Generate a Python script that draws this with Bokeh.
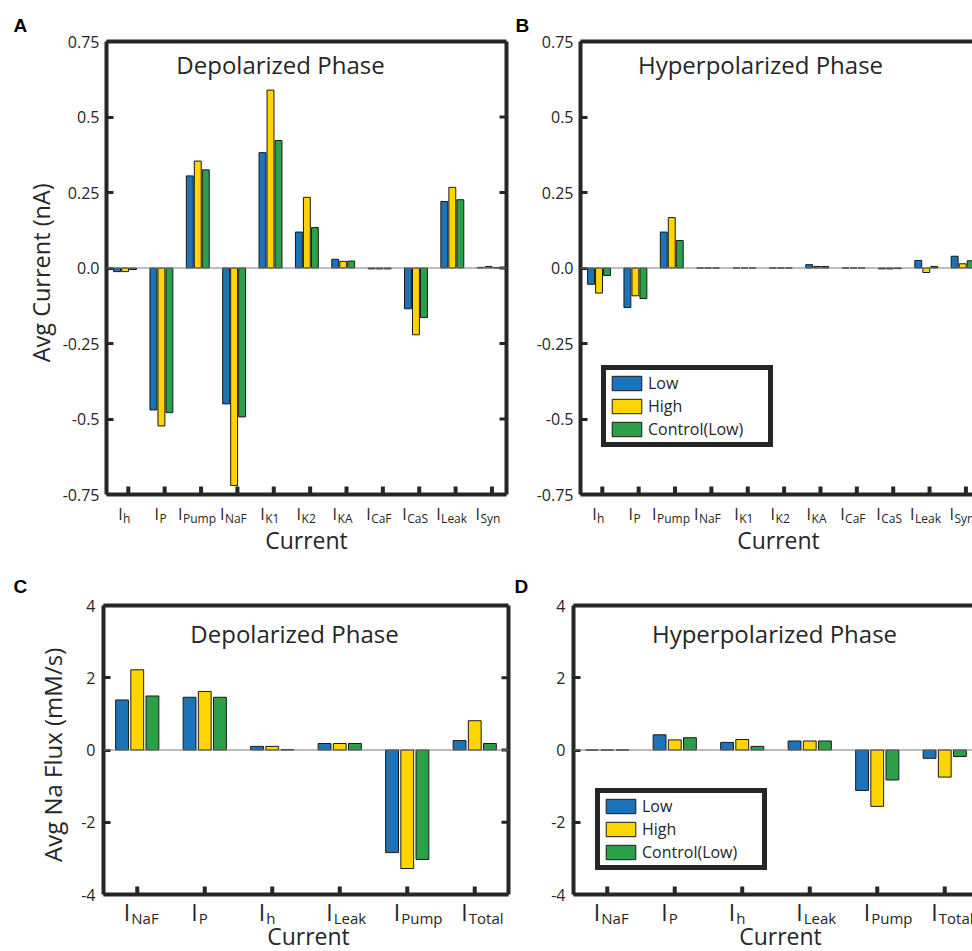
from bokeh.plotting import figure
from bokeh.models import Range1d, FixedTicker, LinearAxis, Label, Legend, LegendItem, Span, Title
from bokeh.layouts import column, row
from bokeh.embed import file_html
from bokeh.resources import INLINE

FONT = "Open Sans"
TXT = "#262626"

# ---------------- data ----------------
curr_labels = ["h", "P", "Pump", "NaF", "K1", "K2", "KA", "CaF", "CaS", "Leak", "Syn"]
flux_labels = ["NaF", "P", "h", "Leak", "Pump", "Total"]
series_names = ["Low", "High", "Control(Low)"]
series_colors = ["#1c73b7", "#fed500", "#2c9f49"]

# Panel A: depolarized phase, average current (nA)
dep_low = [-0.012, -0.470, 0.305, -0.450, 0.382, 0.119, 0.029, -0.003, -0.135, 0.220, 0.002]
dep_high = [-0.012, -0.523, 0.354, -0.720, 0.589, 0.234, 0.022, -0.003, -0.221, 0.267, 0.005]
dep_ctrl = [-0.005, -0.479, 0.325, -0.493, 0.422, 0.134, 0.023, -0.003, -0.164, 0.226, 0.001]

# Panel B: hyperpolarized phase, average current (nA)
hyp_low = [-0.054, -0.131, 0.119, 0.0, 0.0, 0.0, 0.011, 0.0, -0.003, 0.025, 0.039]
hyp_high = [-0.083, -0.092, 0.167, 0.0, 0.0, 0.0, 0.005, 0.0, -0.003, -0.015, 0.014]
hyp_ctrl = [-0.025, -0.101, 0.091, 0.0, 0.0, 0.0, 0.005, 0.0, -0.002, 0.005, 0.024]

# Panel C: depolarized phase, average Na flux (mM/s)
fdep_low = [1.385, 1.46, 0.10, 0.18, -2.84, 0.26]
fdep_high = [2.22, 1.62, 0.10, 0.18, -3.28, 0.81]
fdep_ctrl = [1.495, 1.46, 0.01, 0.18, -3.03, 0.18]

# Panel D: hyperpolarized phase, average Na flux (mM/s)
fhyp_low = [0.0, 0.42, 0.21, 0.25, -1.12, -0.23]
fhyp_high = [0.0, 0.28, 0.29, 0.25, -1.56, -0.75]
fhyp_ctrl = [0.0, 0.34, 0.10, 0.25, -0.83, -0.18]

cur_ticks = [-0.75, -0.5, -0.25, 0.0, 0.25, 0.5, 0.75]
cur_tick_text = ["-0.75", "-0.5", "-0.25", "0.0", "0.25", "0.5", "0.75"]
flux_ticks = [-4, -2, 0, 2, 4]
flux_tick_text = ["-4", "-2", "0", "2", "4"]

# ---------------- layout geometry ----------------
W_L, W_R = 512, 460
H_T, H_B = 560, 391

# Open Sans advance widths (em)
CW = {'h': .614, 'P': .604, 'u': .614, 'm': .93, 'p': .613, 'N': .76, 'a': .556, 'F': .515,
      'K': .60, '1': .572, '2': .572, 'A': .633, 'C': .631, 'S': .55, 'L': .52, 'e': .561,
      'k': .52, 'y': .504, 'n': .614, 'T': .55, 'o': .604, 't': .353, 'l': .253, 'v': .489,
      'g': .537, ' ': .26, 'r': .408, '(': .293, ')': .293, 'x': .514, 'M': .903, '/': .37,
      's': .477, 'I': .278}


def text_w(s, size):
    return size * sum(CW.get(c, .58) for c in s)


class Pan:
    """Pixel geometry of one panel: data box (fl..fr, ft..fb) inside a w x h canvas."""

    def __init__(self, w, h, fl, fr, ft, fb, xr, yr):
        self.w, self.h, self.fl, self.fr, self.ft, self.fb = w, h, fl, fr, ft, fb
        self.xr, self.yr = xr, yr
        self.kx = (fr - fl) / (xr[1] - xr[0])
        self.ky = (fb - ft) / (yr[1] - yr[0])

    def px2x(self, px):
        return self.xr[0] + (px - self.fl) / self.kx

    def py2y(self, py):
        return self.yr[1] - (py - self.ft) / self.ky

    def x2px(self, x):
        return self.fl + (x - self.xr[0]) * self.kx


def make_panel(pan, n_cat, yticks, ytext, boxed, standoff):
    # the plotting frame runs down to the bottom of the canvas so that the
    # category labels below the data box can be drawn inside it
    p = figure(width=pan.w, height=pan.h,
               x_range=Range1d(*pan.xr),
               y_range=Range1d(pan.py2y(pan.h), pan.yr[1]),
               output_backend="svg", toolbar_location=None, title=None,
               x_axis_location=None,
               min_border_left=pan.fl, min_border_right=pan.w - pan.fr,
               min_border_top=pan.ft, min_border_bottom=0,
               background_fill_color="white", border_fill_color="white")
    p.grid.visible = False
    p.outline_line_color = None

    ya = p.yaxis[0]
    ya.bounds = pan.yr
    ya.ticker = FixedTicker(ticks=yticks)
    ya.major_label_overrides = {t: s for t, s in zip(yticks, ytext)}
    ya.major_label_text_font = FONT
    ya.major_label_text_font_size = "16px"
    ya.major_label_text_color = TXT
    ya.major_label_standoff = standoff
    ya.major_tick_in = 7
    ya.major_tick_out = 0
    ya.major_tick_line_width = 3
    ya.major_tick_line_color = TXT
    ya.minor_tick_line_color = None
    ya.axis_line_width = 4
    ya.axis_line_color = TXT

    # top border of the box
    ta = LinearAxis(ticker=FixedTicker(ticks=[]), major_label_standoff=0,
                    major_tick_in=0, major_tick_out=0, major_tick_line_color=None,
                    minor_tick_line_color=None, axis_line_width=4, axis_line_color=TXT)
    p.add_layout(ta, "above")

    y_lo, y_hi = pan.yr
    x_lo, x_hi = pan.xr
    # bottom border of the box
    p.segment(x0=[x_lo], y0=[y_lo], x1=[x_hi], y1=[y_lo], line_color=TXT,
              line_width=4, line_cap="square")
    # inward category ticks
    cats = list(range(1, n_cat + 1))
    p.segment(x0=cats, y0=[y_lo] * n_cat, x1=cats, y1=[y_lo + 8 / pan.ky] * n_cat,
              line_color=TXT, line_width=4)

    if boxed:
        ra = LinearAxis(ticker=FixedTicker(ticks=[]), bounds=pan.yr, major_label_standoff=0,
                        major_tick_in=0, major_tick_out=0, major_tick_line_color=None,
                        minor_tick_line_color=None, axis_line_width=4, axis_line_color=TXT)
        p.add_layout(ra, "right")
        # mirrored value ticks on the right side
        p.segment(x0=[x_hi - 7 / pan.kx] * len(yticks), y0=yticks,
                  x1=[x_hi] * len(yticks), y1=yticks, line_color=TXT, line_width=3)
    return p


def add_bars(p, vals_list, offsets, width):
    rends = []
    n = len(vals_list[0])
    for vals, off, col in zip(vals_list, offsets, series_colors):
        xs = [i + 1 + off for i in range(n)]
        r = p.vbar(x=xs, top=vals, bottom=0, width=width, fill_color=col,
                   line_color="#1a1a1a", line_width=1)
        rends.append(r)
    p.add_layout(Span(location=0, dimension="width", line_color="#7a7a7a", line_width=1.2))
    return rends


def lab(p, pan, px, base, text, size, align="left", font=FONT, style="normal", color=TXT):
    """Text whose alphabetic baseline sits at pixel row `base`."""
    p.add_layout(Label(x=pan.px2x(px), y=pan.py2y(base - 0.38 * size), text=text,
                       text_align=align, text_baseline="middle", text_font=font,
                       text_font_size=f"{size}px", text_font_style=style, text_color=color))


def small_xlabels(p, pan, subs, base, s_main, s_sub, drop, shift):
    """'I' with a subscript, the pair centred a little left of each category tick."""
    wi = text_w("I", s_main)
    for i, sub in enumerate(subs):
        c = pan.x2px(i + 1) + shift
        total = wi + 0.5 + text_w(sub, s_sub)
        x0 = c - total / 2
        lab(p, pan, x0 + wi, base, "I", s_main, align="right")
        lab(p, pan, x0 + wi + 0.5, base + drop, sub, s_sub, align="left")


def flat_xlabels(p, pan, subs, base):
    for i, sub in enumerate(subs):
        T = pan.x2px(i + 1)
        lab(p, pan, T - 7, base, "I", 23, align="right")
        lab(p, pan, T - 6, base + 3, sub, 15, align="left")


def add_letter(p, pan, text, px, standoff, size=19):
    p.add_layout(Title(text=text, align="left", offset=px - pan.fl, standoff=standoff,
                       text_font="Liberation Sans", text_font_size=f"{size}px",
                       text_font_style="bold", text_color="black"), "above")


def add_ylabel(p, pan, text, size, standoff):
    # vertical title that starts so as to be centred on the value axis
    box_mid = (pan.ft + pan.fb) / 2
    start = box_mid + text_w(text, size) / 2
    p.add_layout(Title(text=text, align="left", offset=pan.h - 5 - start,
                       standoff=standoff, text_font=FONT, text_font_size=f"{size}px",
                       text_font_style="normal", text_color=TXT), "left")


def add_legend(p, rends, lx, ly):
    leg = Legend(items=[LegendItem(label=n, renderers=[r]) for n, r in zip(series_names, rends)],
                 location=(lx, ly), border_line_color=TXT, border_line_width=5,
                 border_line_alpha=1.0,
                 padding=2, spacing=1, margin=0, glyph_width=37, glyph_height=18,
                 label_standoff=3, label_width=118, label_height=18,
                 label_text_font=FONT, label_text_font_size="16px", label_text_color=TXT,
                 background_fill_color="white", background_fill_alpha=1.0)
    p.add_layout(leg)


# ---------------- Panel A ----------------
pa = Pan(W_L, H_T, 106, 506, 41, 494, (0.4, 11.4), (-0.75, 0.75))
pA = make_panel(pa, 11, cur_ticks, cur_tick_text, True, 7)
add_bars(pA, [dep_low, dep_high, dep_ctrl], [-0.31, -0.09, 0.13], 0.19)
add_ylabel(pA, pa, "Avg Current (nA)", 23.5, 6)
small_xlabels(pA, pa, curr_labels, 520, 16, 12, 3, -4)
lab(pA, pa, 306, 548, "Current", 23, align="center")
lab(pA, pa, 280, 73, "Depolarized Phase", 24, align="center")
add_letter(pA, pa, "A", 13, 11)

# ---------------- Panel B ----------------
pb_fl = 580 - W_L
pb = Pan(W_R, H_T, pb_fl, W_R, 41, 494, (0.4, 0.4 + (W_R - pb_fl) / 36.36), (-0.75, 0.75))
pB = make_panel(pb, 11, cur_ticks, cur_tick_text, False, 7)
rB = add_bars(pB, [hyp_low, hyp_high, hyp_ctrl], [-0.31, -0.09, 0.13], 0.19)
small_xlabels(pB, pb, curr_labels, 520, 16, 12, 3, -4)
lab(pB, pb, 778 - W_L, 548, "Current", 23, align="center")
lab(pB, pb, 760 - W_L, 73, "Hyperpolarized Phase", 24, align="center")
add_letter(pB, pb, "B", 515 - W_L, 11)
add_legend(pB, rB, 21, 113)

# ---------------- Panel C ----------------
Y0 = H_T
pc = Pan(W_L, H_B, 103, 508, 605 - Y0, 894 - Y0, (0.5, 6.5), (-4, 4))
pC = make_panel(pc, 6, flux_ticks, flux_tick_text, True, 8)
add_bars(pC, [fdep_low, fdep_high, fdep_ctrl], [-0.225, 0.0, 0.225], 0.19)
add_ylabel(pC, pc, "Avg Na Flux (mM/s)", 24, 19)
flat_xlabels(pC, pc, flux_labels, 920 - Y0)
lab(pC, pc, 308, 944 - Y0, "Current", 23, align="center")
lab(pC, pc, 294, 642 - Y0, "Depolarized Phase", 24, align="center")
add_letter(pC, pc, "C", 13, 18)

# ---------------- Panel D ----------------
pd_fl = 573 - W_L
pd = Pan(W_R, H_B, pd_fl, W_R, 605 - Y0, 894 - Y0, (0.5, 0.5 + (W_R - pd_fl) / 67.5), (-4, 4))
pD = make_panel(pd, 6, flux_ticks, flux_tick_text, False, 8)
rD = add_bars(pD, [fhyp_low, fhyp_high, fhyp_ctrl], [-0.225, 0.0, 0.225], 0.19)
flat_xlabels(pD, pd, flux_labels, 920 - Y0)
lab(pD, pd, 780 - W_L, 944 - Y0, "Current", 23, align="center")
lab(pD, pd, 774 - W_L, 642 - Y0, "Hyperpolarized Phase", 24, align="center")
add_letter(pD, pd, "D", 514 - W_L, 18)
add_legend(pD, rD, 22, 81)

layout = column(row(pA, pB), row(pC, pD))
open("out.html", "w").write(file_html(layout, INLINE))
